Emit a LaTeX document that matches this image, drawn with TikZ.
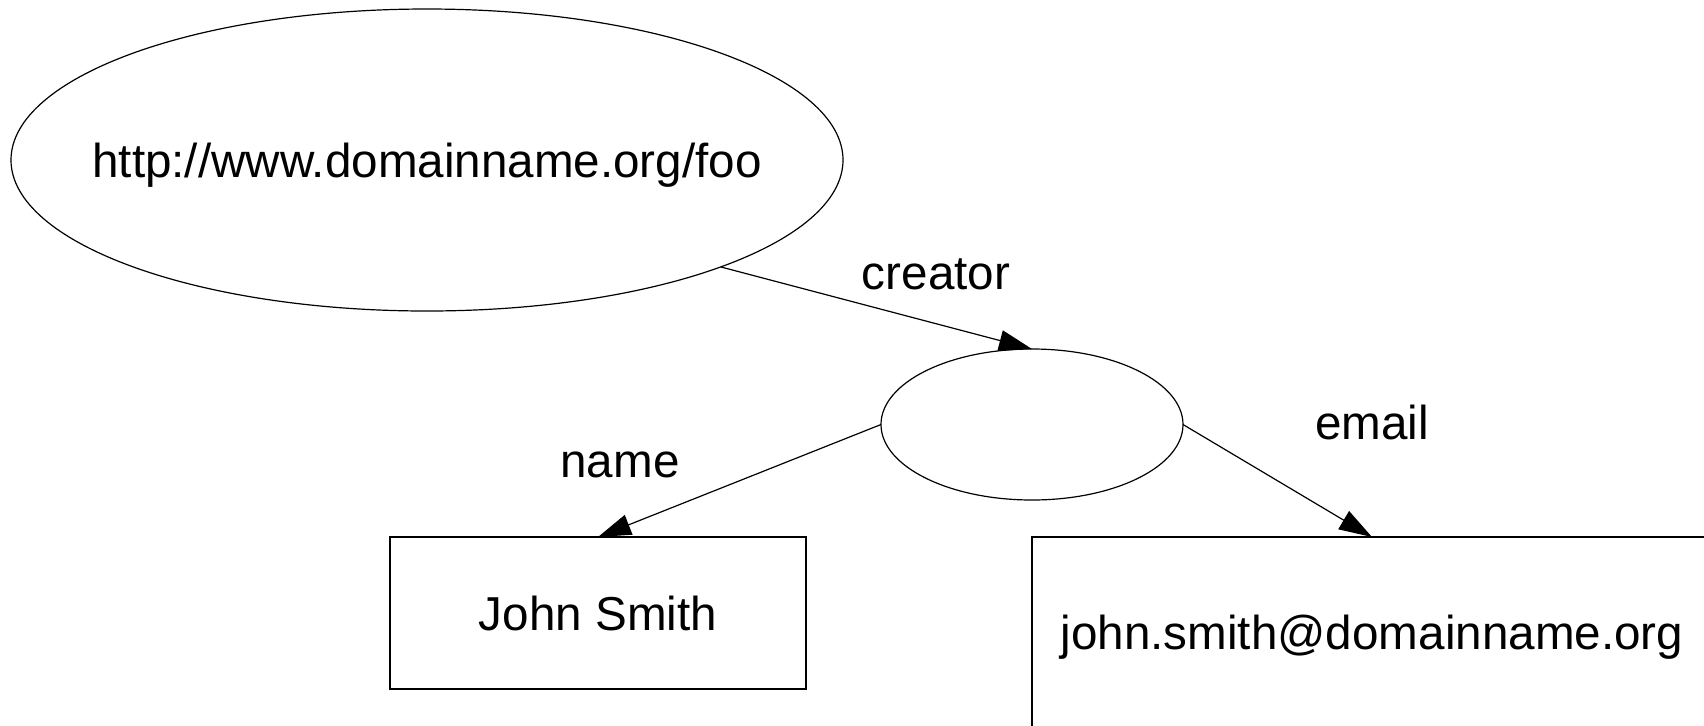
\documentclass[tikz,border=0pt]{standalone}
\usepackage{fontspec}
\setmainfont{Liberation Sans}
\usetikzlibrary{shapes.geometric,arrows.meta}

\tikzset{
  every node/.style={font=\fontsize{23.8pt}{28pt}\selectfont},
  shapeline/.style={draw=black, line width=0.6pt, inner sep=0pt, outer sep=0pt,
    text height=17pt, text depth=0pt},
  resource/.style={shapeline, ellipse},
  literal/.style={shapeline, rectangle},
  caption/.style={inner sep=0pt, text height=17pt, text depth=0pt},
  arc/.style={draw=black, line width=0.6pt,
    -{Triangle[length=16.5pt,width=10.5pt]}},
  arclabel/.style={anchor=base, inner sep=0pt}
}

\begin{document}
\begin{tikzpicture}[x=0.5pt, y=-0.5pt]
  \useasboundingbox[fill=white] (0,0) rectangle (1704,725);

  % subject resource and blank node
  \node[resource, minimum width=416pt, minimum height=151pt] (uri) at (427,160) {};
  \node[caption] (uritext) at (uri.center) {http://www.domainname.org/foo};
  \node[resource, minimum width=151pt, minimum height=75.5pt] (blank) at (1032,424.5) {};

  % literal values
  \node[literal, minimum width=208pt, minimum height=76pt] (name) at (598,613)
    {John Smith};
  \node[literal, minimum width=340pt, minimum height=95pt] (mail) at (1372,632)
    {john.smith@domainname.org};

  % properties
  \draw[arc] (uri.-20.6) -- (blank.north);
  \draw[arc] (blank.west) -- (name.north);
  \draw[arc] (blank.east) -- (mail.north);

  \node[arclabel] (lcreator) at (936,289) {creator};
  \node[arclabel] (lname) at (620,477) {name};
  \node[arclabel] (lemail) at (1372,439) {email};
\end{tikzpicture}
\end{document}
